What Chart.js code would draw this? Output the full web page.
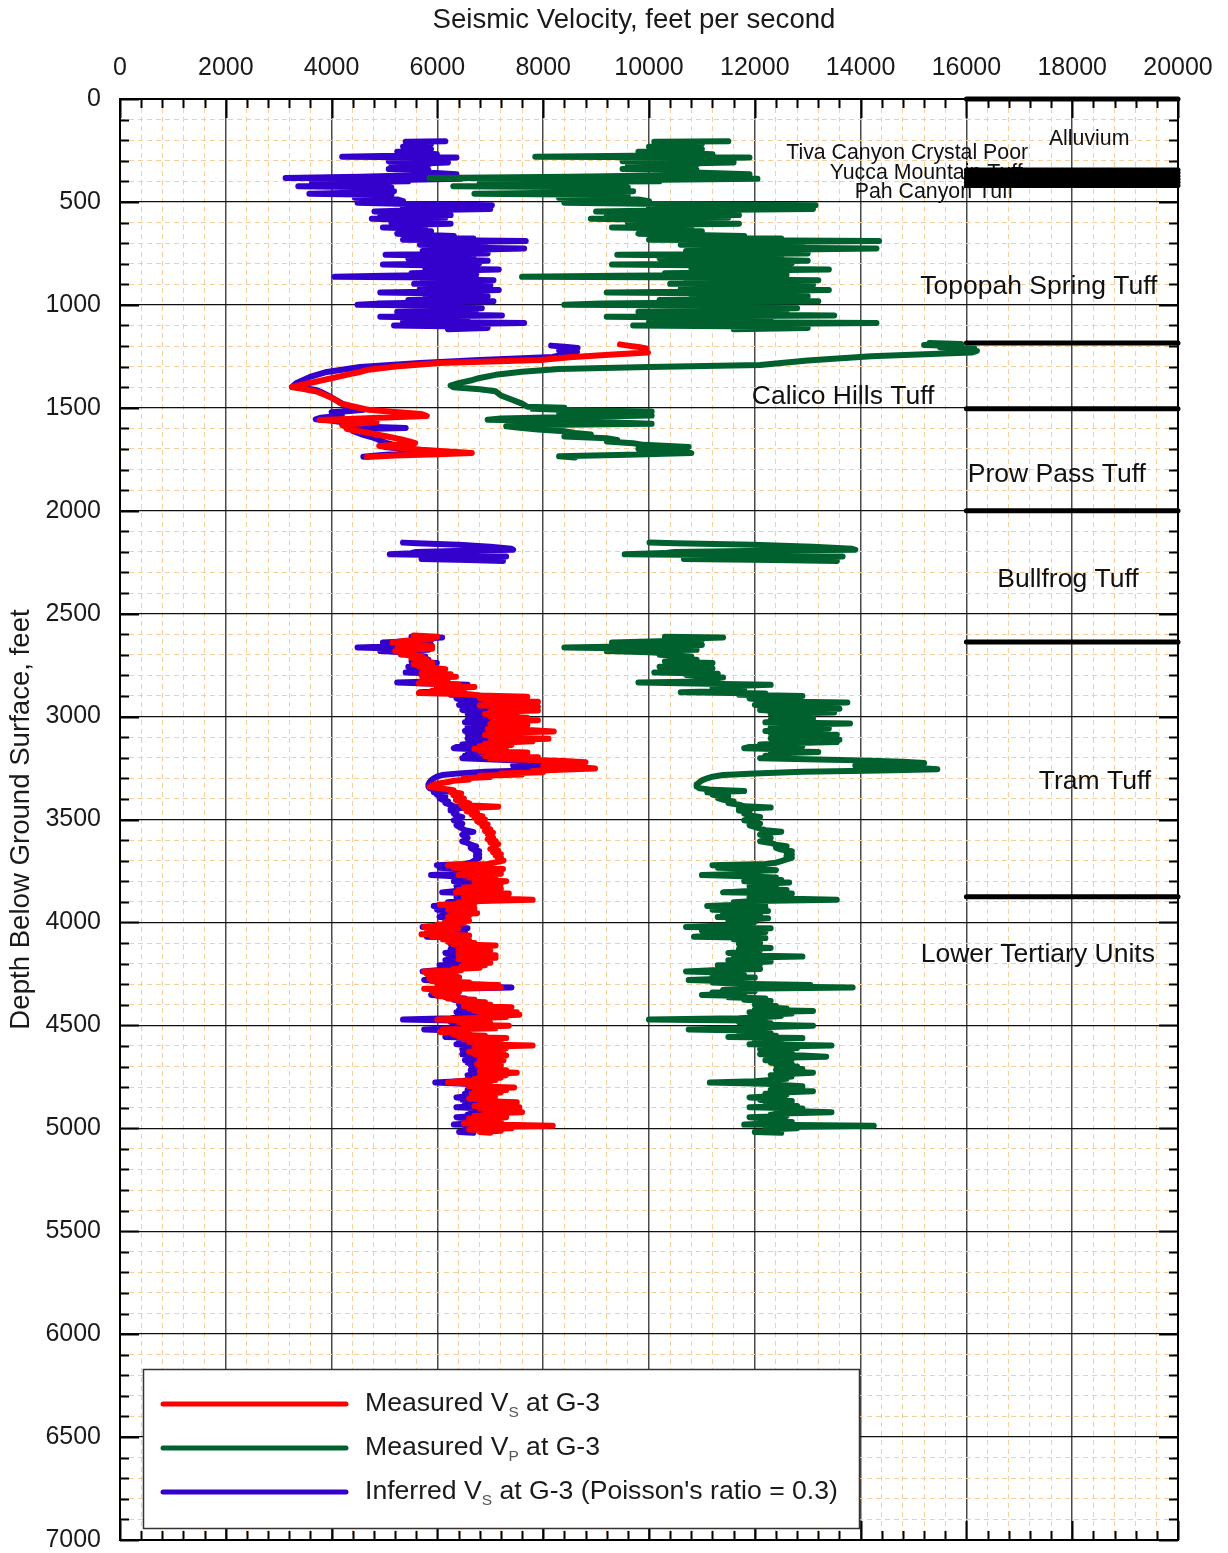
<!DOCTYPE html>
<html>
<head>
<meta charset="utf-8">
<title>Seismic velocity log, G-3</title>
<script src="https://cdn.jsdelivr.net/npm/chart.js@4.4.1/dist/chart.umd.min.js"></script>
<style>
  html, body { margin: 0; padding: 0; background: #ffffff; }
  #wrap { width: 1228px; height: 1553px; position: relative; }
</style>
</head>
<body>
<div id="wrap"><canvas id="chart" width="1228" height="1553"></canvas></div>
<script>
// ---------------------------------------------------------------------------
// Velocity logs, pairs of [depth below ground surface (ft), velocity (ft/s)]
// ---------------------------------------------------------------------------

// Measured Vp, upper tuffs (Tiva Canyon .. Topopah Spring)
const vpUpper = [
  [205,11500],[208,10100],[212,10500],[218,11000],[222,10200],[228,10800],[232,10000],[238,10400],[244,11000],[250,10300],
  [256,9800],[262,10600],[268,11200],[274,10200],[280,7850],[284,11900],[290,10600],[296,10900],[302,9500],[308,11600],
  [314,10400],[320,10900],[326,9600],[334,10300],[340,9500],[346,10900],[352,10500],[358,11000],[366,11900],[372,10200],
  [378,8500],[384,5850],[388,12050],[394,9800],[400,10200],[406,6800],[412,8800],[418,9500],[424,6300],[430,9600],
  [436,9000],[442,8800],[448,9700],[454,8600],[460,6700],[466,9600],[472,9000],[480,8300],[488,9800],[496,10000],
  [504,8400],[510,10200],[516,13150],[522,11000],[528,10000],[534,13100],[540,10500],[546,9000],[552,10300],[558,9500],
  [564,11700],[570,9200],[576,11500],[582,8900],[588,10400],[594,11400],[600,9600],[606,11700],[612,9900],[618,10600],
  [624,9300],[630,10800],[636,10000],[642,11000],[648,10200],[654,9800],[660,10600],[666,11800],[672,10400],[678,12500],
  [684,10000],[690,14350],[696,11500],[702,12800],[708,10600],[714,12900],[720,11200],[726,14300],[732,12400],[738,10700],
  [744,11600],[750,13000],[756,9400],[762,11400],[768,12500],[774,10200],[780,12000],[786,13000],[792,11000],[798,12700],
  [804,9300],[810,11800],[816,12300],[822,10800],[828,13400],[834,11500],[840,12000],[846,10300],[852,12600],[858,9400],
  [864,7600],[868,12600],[874,10700],[880,13200],[886,11100],[892,12600],[898,10400],[904,13100],[910,11200],[916,12400],
  [922,10600],[928,13400],[934,11800],[940,9200],[946,12200],[952,10800],[958,13000],[964,11400],[970,12100],[976,10200],
  [982,13200],[988,11000],[994,9100],[1000,8400],[1004,12000],[1010,10500],[1016,12800],[1022,11000],[1028,12400],[1034,9800],
  [1040,12600],[1046,11000],[1052,13500],[1058,9200],[1064,11600],[1070,10100],[1076,12300],[1082,10000],[1088,14300],[1094,11500],
  [1100,9700],[1106,12700],[1112,13000],[1118,11600]
];

// Inferred Vs (Poisson's ratio 0.3), upper tuffs
const vsInferredUpper = [
  [205,6150],[208,5400],[212,5610],[218,5880],[222,5450],[228,5770],[232,5350],[238,5560],[244,5880],[250,5510],
  [256,5240],[262,5670],[268,5990],[274,5450],[280,4200],[284,6360],[290,5670],[296,5830],[302,5080],[308,6200],
  [314,5560],[320,5830],[326,5130],[334,5510],[340,5080],[346,5830],[352,5610],[358,5880],[366,6360],[372,5450],
  [378,4540],[384,3130],[388,6440],[394,5240],[400,5450],[406,3630],[412,4700],[418,5080],[424,3370],[430,5130],
  [436,4810],[442,4700],[448,5180],[454,4600],[460,3580],[466,5130],[472,4810],[480,4440],[488,5240],[496,5350],
  [504,4490],[510,5450],[516,7030],[522,5880],[528,5350],[534,7000],[540,5610],[546,4810],[552,5510],[558,5080],
  [564,6250],[570,4920],[576,6150],[582,4760],[588,5560],[594,6090],[600,5130],[606,6250],[612,5290],[618,5670],
  [624,4970],[630,5770],[636,5350],[642,5880],[648,5450],[654,5240],[660,5670],[666,6310],[672,5560],[678,6680],
  [684,5350],[690,7670],[696,6150],[702,6840],[708,5670],[714,6900],[720,5990],[726,7640],[732,6630],[738,5720],
  [744,6200],[750,6950],[756,5020],[762,6090],[768,6680],[774,5450],[780,6410],[786,6950],[792,5880],[798,6790],
  [804,4970],[810,6310],[816,6570],[822,5770],[828,7160],[834,6150],[840,6410],[846,5510],[852,6730],[858,5020],
  [864,4060],[868,6730],[874,5720],[880,7060],[886,5930],[892,6730],[898,5560],[904,7000],[910,5990],[916,6630],
  [922,5670],[928,7160],[934,6310],[940,4920],[946,6520],[952,5770],[958,6950],[964,6090],[970,6470],[976,5450],
  [982,7060],[988,5880],[994,4860],[1000,4490],[1004,6410],[1010,5610],[1016,6840],[1022,5880],[1028,6630],[1034,5240],
  [1040,6730],[1046,5880],[1052,7220],[1058,4920],[1064,6200],[1070,5400],[1076,6570],[1082,5350],[1088,7640],[1094,6150],
  [1100,5180],[1106,6790],[1112,6950],[1118,6200]
];

// Calico Hills interval
const vpCalico = [
  [1185,15300],[1190,15900],[1195,15200],[1200,15800],[1206,15500],[1212,16150],[1218,15700],[1224,16200],[1232,16100],
  [1250,14200],[1270,13000],[1292,12100],[1302,10000],[1312,8300],[1325,7600],[1340,7100],[1355,6800],[1365,6670],
  [1380,6400],[1392,6250],[1400,6300],[1410,6800],[1420,7100],[1440,7200],[1460,7400],[1480,7600],[1495,7700],
  [1500,8400],[1505,7800],[1512,8600],[1518,10050],[1524,8300],[1530,9200],[1538,10050],[1545,8500],[1552,7200],
  [1558,6950],[1564,8300],[1570,9200],[1578,10050],[1584,8000],[1590,7300],[1598,7600],[1606,7900],[1614,8400],
  [1622,8600],[1630,8900],[1640,8400],[1648,9200],[1656,9400],[1664,9200],[1672,9700],[1680,9900],[1690,10750],
  [1700,9800],[1710,10600],[1720,10800],[1728,9600],[1736,8300],[1742,8600]
];
const vsCalico = [
  [1192,9450],[1198,9600],[1205,9800],[1212,9950],[1222,9900],[1232,9980],[1240,9400],[1255,8500],[1268,7940],
  [1282,6050],[1300,5200],[1315,4700],[1326,4540],[1334,4390],[1399,3250],[1410,3500],[1423,3740],[1440,3900],
  [1453,4010],[1465,4100],[1477,4160],[1490,4350],[1501,4540],[1510,4700],[1520,5200],[1530,5700],[1540,5800],
  [1548,4900],[1555,4300],[1559,3780],[1564,4300],[1570,4850],[1576,4500],[1585,4200],[1595,4300],[1603,4290],
  [1612,4500],[1622,4700],[1632,4900],[1642,5100],[1652,5300],[1662,5450],[1672,5580],[1678,5300],[1686,4900],
  [1695,5300],[1704,5700],[1712,6200],[1720,6650],[1726,6000],[1732,5200],[1739,4670]
];
const vsInferredCalico = [
  [1198,8150],[1204,8400],[1210,8650],[1216,8600],[1222,8300],[1229,8640],[1240,8400],[1253,8180],[1268,6800],
  [1282,5670],[1302,4540],[1326,3910],[1350,3590],[1379,3340],[1399,3250],[1405,3500],[1413,3700],[1423,3800],
  [1436,3900],[1450,4000],[1465,4100],[1480,4200],[1494,4250],[1502,4300],[1510,4600],[1516,4350],[1522,4000],
  [1530,4200],[1540,4100],[1548,3800],[1556,3700],[1562,4000],[1570,4200],[1578,4400],[1586,4300],[1592,4700],
  [1598,5400],[1604,4450],[1612,4400],[1622,4500],[1632,4600],[1642,4750],[1652,4850],[1662,4950],[1672,5050],
  [1682,5200],[1690,5000],[1698,5300],[1706,5250],[1714,5500],[1722,5350],[1730,4900],[1738,4600]
];

// Bullfrog interval
const vpBullfrog = [
  [2155,10010],[2158,10500],[2165,11970],[2175,13100],[2185,13840],[2190,13900],[2194,12160],[2200,10480],
  [2206,10290],[2212,9540],[2218,12160],[2222,13660],[2228,12720],[2234,10660],[2240,12350],[2244,13550]
];
const vsInferredBullfrog = [
  [2155,5350],[2158,5610],[2165,6400],[2175,7000],[2185,7400],[2190,7430],[2194,6500],[2200,5600],
  [2206,5500],[2212,5100],[2218,6500],[2222,7300],[2228,6800],[2234,5700],[2240,6600],[2244,7240]
];

// Tram Tuff and Lower Tertiary units
const vpLower = [
  [2612,10300],[2616,11400],[2622,10600],[2628,11000],[2634,10200],[2640,9300],[2646,10600],[2652,11000],[2658,9800],[2664,8400],
  [2670,10000],[2676,10900],[2682,9200],[2688,10000],[2694,10400],[2700,10200],[2708,10800],[2716,10400],[2724,10900],[2732,10300],
  [2740,11200],[2746,10600],[2752,10900],[2758,10200],[2766,11200],[2774,10500],[2780,11100],[2786,10100],[2792,11300],[2798,10700],
  [2804,11000],[2810,11400],[2816,11000],[2822,11100],[2828,11300],[2834,9800],[2840,11100],[2846,12300],[2852,11600],[2858,11200],
  [2866,11800],[2874,11600],[2882,10600],[2888,12200],[2894,11700],[2900,12900],[2906,12000],[2912,11900],[2920,12200],[2926,12100],
  [2932,13750],[2938,12300],[2944,12000],[2950,12500],[2956,12200],[2962,13600],[2968,12100],[2974,12500],[2980,13500],[2986,12300],
  [2992,12600],[2998,12900],[3004,12400],[3010,13100],[3016,12300],[3022,12700],[3028,12200],[3034,13800],[3040,12500],[3046,12900],
  [3052,12300],[3058,13400],[3064,12600],[3070,12200],[3076,12800],[3082,12300],[3088,13550],[3094,12500],[3100,12800],[3106,12300],
  [3112,13600],[3118,12700],[3124,13550],[3130,12600],[3136,12100],[3142,12900],[3148,11900],[3154,11800],[3160,12700],[3166,12300],
  [3172,13200],[3178,12500],[3184,12600],[3190,12200],[3196,12500],[3202,12100],[3208,13200],[3214,14200],[3220,14800],[3226,15200],
  [3232,14500],[3238,13900],[3244,14700],[3250,15100],[3256,15450],[3262,14400],[3268,12900],[3276,12000],[3284,11400],[3292,11200],
  [3300,11100],[3310,11000],[3320,10950],[3330,10900],[3340,10900],[3348,10950],[3356,11200],[3362,11800],[3368,11100],[3374,11300],
  [3380,11200],[3388,11500],[3396,11300],[3404,11400],[3412,11600],[3420,11500],[3428,11700],[3436,11800],[3442,12300],[3448,11700],
  [3456,11700],[3464,11900],[3472,11800],[3480,11900],[3488,12100],[3496,11900],[3504,11800],[3512,12000],[3520,12100],[3528,11900],
  [3536,12000],[3544,12100],[3552,12200],[3560,12500],[3566,12200],[3574,12100],[3582,12200],[3590,12300],[3598,12200],[3606,12100],
  [3614,12300],[3622,12400],[3630,12600],[3638,12400],[3646,12500],[3654,12700],[3662,12600],[3670,12700],[3678,12600],[3686,12700],
  [3694,12600],[3702,12500],[3710,12400],[3716,12200],[3722,11200],[3728,11900],[3734,11300],[3740,12200],[3746,12400],[3752,11700],
  [3758,12100],[3764,11900],[3770,11000],
  [3776,11800],[3782,12400],[3788,11900],[3794,12500],[3800,11800],[3806,12650],[3812,12100],[3818,12300],[3824,11900],[3830,12400],
  [3836,12100],[3842,12600],[3848,11800],[3854,11400],[3860,12700],[3866,12000],[3872,12300],[3878,11900],[3884,12500],[3890,13550],
  [3896,12000],[3902,11600],[3908,12200],[3914,11700],[3920,11100],[3926,12200],[3932,11500],[3938,11200],[3944,12250],[3950,11600],
  [3956,11400],[3962,12100],[3968,11800],[3974,11300],[3980,12250],[3986,11900],[3992,11500],[3998,12000],[4004,11700],[4010,11900],
  [4016,11300],[4022,10700],[4028,12300],[4034,11400],[4040,11000],[4046,12200],[4052,11600],[4058,11900],[4064,11200],[4070,10850],
  [4076,12200],[4082,11600],[4088,11900],[4094,11700],[4100,12100],[4106,11700],[4112,11900],[4118,11800],[4124,12300],[4130,11700],
  [4136,12100],[4142,11900],[4148,11500],[4154,12000],[4160,11600],[4166,12900],[4172,11700],[4178,12000],[4184,11500],[4190,12300],
  [4196,11800],[4202,12100],[4208,11300],[4214,11900],[4220,11500],[4226,12100],[4232,11200],[4238,10700],[4244,11600],[4250,11300],
  [4256,11800],[4262,11200],[4268,12000],[4274,11400],[4280,10750],[4286,11500],[4292,11200],[4298,11700],[4304,13050],[4310,12000],
  [4316,13850],[4322,11700],[4328,11400],[4334,12000],[4340,11200],[4346,11600],[4352,11000],[4358,11800],[4364,11500],[4370,12200],
  [4376,11800],[4382,12300],[4388,12000],[4394,12100],[4400,12000],[4406,12400],[4412,12100],[4418,12600],[4424,12000],[4430,13100],
  [4436,11900],[4442,12700],[4448,12200],[4454,12500],[4460,12200],[4466,11700],[4472,10000],[4478,12200],[4484,11700],[4490,12300],
  [4496,12000],[4502,13100],[4508,12300],[4514,11800],[4520,10750],[4526,12100],[4532,11700],[4538,12300],[4544,11900],[4550,12400],
  [4556,11500],[4562,12900],[4568,12200],[4574,12500],[4580,12000],[4586,12400],[4592,11900],[4598,13450],[4604,12300],[4610,12800],
  [4616,12100],[4622,12500],[4628,12200],[4634,12700],[4640,12100],[4646,12900],[4652,13350],[4658,12300],[4664,12700],[4670,12200],
  [4676,12600],[4682,12300],[4688,12700],[4694,12400],[4700,12800],[4706,12500],[4712,12900],[4718,12400],[4724,12600],[4730,13100],
  [4736,12600],[4742,12300],[4748,12700],[4754,12400],[4760,12600],[4766,12300],[4772,12000],[4778,11150],[4784,12200],[4790,12500],
  [4796,12900],[4802,12400],[4808,12700],[4814,12300],[4820,13100],[4826,12500],[4832,12200],[4838,12600],[4844,12300],[4850,11900],
  [4856,12500],[4862,12100],[4868,12700],[4874,12300],[4880,12600],[4886,12200],[4892,12800],[4898,11900],[4904,12900],[4910,12400],
  [4916,12700],[4922,13450],[4928,12500],[4934,12300],[4940,12600],[4946,11900],[4952,12200],[4958,12500],[4964,12200],[4970,12700],
  [4976,12400],[4982,11800],[4988,14250],[4994,12500],[5000,12800],[5006,12200],[5012,12500],[5018,12000],[5022,12500]
];

const vsInferredLower = [
  [2612,5510],[2616,6090],[2622,5670],[2628,5880],[2634,5450],[2640,4970],[2646,5670],[2652,5880],[2658,5240],[2664,4490],
  [2670,5350],[2676,5830],[2682,4920],[2688,5350],[2694,5560],[2700,5450],[2708,5770],[2716,5560],[2724,5830],[2732,5510],
  [2740,5990],[2746,5670],[2752,5830],[2758,5450],[2766,5990],[2774,5610],[2780,5930],[2786,5400],[2792,6040],[2798,5720],
  [2804,5880],[2810,6090],[2816,5880],[2822,5930],[2828,6040],[2834,5240],[2840,5930],[2846,6570],[2852,6200],[2858,5990],
  [2866,6310],[2874,6200],[2882,5670],[2888,6520],[2894,6250],[2900,6900],[2906,6410],[2912,6360],[2920,6520],[2926,6470],
  [2932,7350],[2938,6570],[2944,6410],[2950,6680],[2956,6520],[2962,7270],[2968,6470],[2974,6680],[2980,7220],[2986,6570],
  [2992,6730],[2998,6900],[3004,6630],[3010,7000],[3016,6570],[3022,6790],[3028,6520],[3034,7380],[3040,6680],[3046,6900],
  [3052,6570],[3058,7160],[3064,6730],[3070,6520],[3076,6840],[3082,6570],[3088,7240],[3094,6680],[3100,6840],[3106,6570],
  [3112,7270],[3118,6790],[3124,7240],[3130,6730],[3136,6470],[3142,6900],[3148,6360],[3154,6310],[3160,6790],[3166,6570],
  [3172,7060],[3178,6680],[3184,6730],[3190,6520],[3196,6680],[3202,6470],[3208,7060],[3214,7590],[3220,7910],[3226,8120],
  [3232,7750],[3238,7430],[3244,7860],[3250,8070],[3256,8260],[3262,7700],[3268,6900],[3276,6410],[3284,6090],[3292,5990],
  [3300,5930],[3310,5880],[3320,5850],[3330,5830],[3340,5830],[3348,5850],[3356,5990],[3362,6310],[3368,5930],[3374,6040],
  [3380,5990],[3388,6150],[3396,6040],[3404,6090],[3412,6200],[3420,6150],[3428,6250],[3436,6310],[3442,6570],[3448,6250],
  [3456,6250],[3464,6360],[3472,6310],[3480,6360],[3488,6470],[3496,6360],[3504,6310],[3512,6410],[3520,6470],[3528,6360],
  [3536,6410],[3544,6470],[3552,6520],[3560,6680],[3566,6520],[3574,6470],[3582,6520],[3590,6570],[3598,6520],[3606,6470],
  [3614,6570],[3622,6630],[3630,6730],[3638,6630],[3646,6680],[3654,6790],[3662,6730],[3670,6790],[3678,6730],[3686,6790],
  [3694,6730],[3702,6680],[3710,6630],[3716,6520],[3722,5990],[3728,6360],[3734,6040],[3740,6520],[3746,6630],[3752,6250],
  [3758,6470],[3764,6360],[3770,5880],
  [3776,6310],[3782,6630],[3788,6360],[3794,6680],[3800,6310],[3806,6760],[3812,6470],[3818,6570],[3824,6360],[3830,6630],
  [3836,6470],[3842,6730],[3848,6310],[3854,6090],[3860,6790],[3866,6410],[3872,6570],[3878,6360],[3884,6680],[3890,7240],
  [3896,6410],[3902,6200],[3908,6520],[3914,6250],[3920,5930],[3926,6520],[3932,6150],[3938,5990],[3944,6550],[3950,6200],
  [3956,6090],[3962,6470],[3968,6310],[3974,6040],[3980,6550],[3986,6360],[3992,6150],[3998,6410],[4004,6250],[4010,6360],
  [4016,6040],[4022,5720],[4028,6570],[4034,6090],[4040,5880],[4046,6520],[4052,6200],[4058,6360],[4064,5990],[4070,5800],
  [4076,6520],[4082,6200],[4088,6360],[4094,6250],[4100,6470],[4106,6250],[4112,6360],[4118,6310],[4124,6570],[4130,6250],
  [4136,6470],[4142,6360],[4148,6150],[4154,6410],[4160,6200],[4166,6900],[4172,6250],[4178,6410],[4184,6150],[4190,6570],
  [4196,6310],[4202,6470],[4208,6040],[4214,6360],[4220,6150],[4226,6470],[4232,5990],[4238,5720],[4244,6200],[4250,6040],
  [4256,6310],[4262,5990],[4268,6410],[4274,6090],[4280,5750],[4286,6150],[4292,5990],[4298,6250],[4304,6980],[4310,6410],
  [4316,7400],[4322,6250],[4328,6090],[4334,6410],[4340,5990],[4346,6200],[4352,5880],[4358,6310],[4364,6150],[4370,6520],
  [4376,6310],[4382,6570],[4388,6410],[4394,6470],[4400,6410],[4406,6630],[4412,6470],[4418,6730],[4424,6410],[4430,7000],
  [4436,6360],[4442,6790],[4448,6520],[4454,6680],[4460,6520],[4466,6250],[4472,5350],[4478,6520],[4484,6250],[4490,6570],
  [4496,6410],[4502,7000],[4508,6570],[4514,6310],[4520,5750],[4526,6470],[4532,6250],[4538,6570],[4544,6360],[4550,6630],
  [4556,6150],[4562,6900],[4568,6520],[4574,6680],[4580,6410],[4586,6630],[4592,6360],[4598,7190],[4604,6570],[4610,6840],
  [4616,6470],[4622,6680],[4628,6520],[4634,6790],[4640,6470],[4646,6900],[4652,7140],[4658,6570],[4664,6790],[4670,6520],
  [4676,6730],[4682,6570],[4688,6790],[4694,6630],[4700,6840],[4706,6680],[4712,6900],[4718,6630],[4724,6730],[4730,7000],
  [4736,6730],[4742,6570],[4748,6790],[4754,6630],[4760,6730],[4766,6570],[4772,6410],[4778,5960],[4784,6520],[4790,6680],
  [4796,6900],[4802,6630],[4808,6790],[4814,6570],[4820,7000],[4826,6680],[4832,6520],[4838,6730],[4844,6570],[4850,6360],
  [4856,6680],[4862,6470],[4868,6790],[4874,6570],[4880,6730],[4886,6520],[4892,6840],[4898,6360],[4904,6900],[4910,6630],
  [4916,6790],[4922,7190],[4928,6680],[4934,6570],[4940,6730],[4946,6360],[4952,6520],[4958,6680],[4964,6520],[4970,6790],
  [4976,6630],[4982,6310],[4988,7620],[4994,6680],[5000,6840],[5006,6520],[5012,6680],[5018,6410],[5022,6680]
];

// Measured Vs, Tram Tuff and Lower Tertiary units
const vsLower = [
  [2606,5550],[2612,6000],[2618,5650],[2624,5900],[2632,5400],[2640,5150],[2646,5550],[2652,5300],[2658,5900],[2664,5250],
  [2670,5900],[2676,5400],[2682,5200],[2690,5500],[2698,5300],[2706,5700],[2714,5500],[2722,5800],[2730,5600],[2738,5900],
  [2746,5550],[2752,5900],[2758,5650],[2764,5950],[2770,6150],[2776,5800],[2782,6000],[2788,5700],[2794,6250],[2800,5700],
  [2806,6350],[2812,5900],[2818,6200],[2826,5700],[2832,6100],[2838,5650],[2844,6400],[2850,6000],[2856,6700],[2862,6100],
  [2868,6500],[2874,5900],[2880,6400],[2886,5650],[2892,6600],[2898,6800],[2904,7700],[2910,6800],[2916,7300],[2922,6900],
  [2928,7900],[2934,7000],[2940,7500],[2946,6800],[2952,7900],[2958,7200],[2964,7600],[2970,7900],[2976,7000],[2982,7300],
  [2988,6900],[2994,7500],[3000,7000],[3006,7700],[3012,7100],[3018,7900],[3024,7050],[3030,7600],[3036,7000],[3042,7700],
  [3048,7100],[3054,7400],[3060,6950],[3066,7800],[3072,8200],[3078,7100],[3084,7600],[3090,6900],[3096,7400],[3102,7000],
  [3108,8100],[3114,7300],[3120,7800],[3126,7250],[3132,6900],[3138,7400],[3144,6800],[3150,7200],[3156,6700],[3162,7300],
  [3168,6800],[3174,7700],[3180,7100],[3186,7500],[3192,6900],[3198,7900],[3204,7000],[3210,7700],[3216,8400],[3222,8800],
  [3228,8100],[3234,8500],[3240,8000],[3246,8700],[3252,8980],[3258,8300],[3264,7800],[3270,8000],[3276,7200],[3282,7600],
  [3288,6800],[3294,7000],[3300,6500],[3306,6600],[3312,6300],[3318,6200],[3326,6000],[3334,5900],[3342,5850],[3350,6100],
  [3358,6300],[3366,6250],[3374,6450],[3382,6300],[3390,6400],[3398,6500],[3406,6350],[3414,6500],[3422,6600],[3430,6450],
  [3438,7150],[3444,6500],[3452,6700],[3460,6550],[3468,6750],[3476,6650],[3484,6850],[3492,6700],[3500,6900],[3508,6750],
  [3516,6800],[3524,6950],[3532,6850],[3540,6900],[3548,7000],[3556,6900],[3564,7050],[3572,6950],[3580,7000],[3588,7050],
  [3596,6950],[3604,7100],[3612,7000],[3620,7150],[3628,7050],[3636,7100],[3644,7000],[3652,7150],[3660,7050],[3668,7200],
  [3676,7100],[3684,7200],[3692,7150],[3700,7250],[3708,7100],[3716,6950],[3722,6200],[3728,7000],[3734,6300],[3740,7240],
  [3746,6500],[3752,7100],[3758,6800],[3764,7200],[3770,6400],[3776,7000],[3782,6600],[3788,7100],[3794,6700],[3800,7300],
  [3806,6800],[3812,7200],[3818,6700],[3824,7000],[3830,6500],[3836,7200],[3842,6400],[3848,7000],[3854,6350],[3860,7350],
  [3866,6600],[3872,7000],[3878,6500],[3884,7100],[3890,7800],[3896,6800],[3902,6400],[3908,6700],[3914,6050],[3920,6600],
  [3926,6200],[3932,6700],[3938,6200],[3944,6600],[3950,6300],[3956,6750],[3962,6250],[3968,6600],[3974,6200],[3980,6550],
  [3986,6300],[3992,6600],[3998,6150],[4004,6500],[4010,6000],[4016,6300],[4022,5750],[4028,6400],[4034,5850],[4040,6300],
  [4046,5800],[4052,6200],[4058,5700],[4064,6600],[4070,5900],[4076,6400],[4082,6100],[4088,6600],[4094,6200],[4100,6700],
  [4106,6300],[4112,7100],[4118,6500],[4124,6900],[4130,6400],[4136,7000],[4142,6500],[4148,6800],[4154,6400],[4160,7100],
  [4166,6600],[4172,7100],[4178,6400],[4184,6900],[4190,6500],[4196,7000],[4202,6500],[4208,6900],[4214,6450],[4220,6800],
  [4226,6300],[4232,6450],[4238,5750],[4244,6300],[4250,5800],[4256,6350],[4262,5900],[4268,6400],[4274,5850],[4280,6200],
  [4286,5900],[4292,6600],[4298,6000],[4304,7150],[4310,6100],[4316,7200],[4322,5750],[4328,6200],[4334,5900],[4340,6400],
  [4346,5950],[4352,6300],[4358,6000],[4364,6400],[4370,6200],[4376,6700],[4382,6400],[4388,6900],[4394,6500],[4400,7000],
  [4406,6500],[4412,7400],[4418,6600],[4424,7300],[4430,6700],[4436,7500],[4442,6800],[4448,7550],[4454,6900],[4460,7300],
  [4466,6600],[4472,6000],[4478,6800],[4484,6400],[4490,7000],[4496,6500],[4502,7350],[4508,6500],[4514,7100],[4520,6100],
  [4526,6600],[4532,6050],[4538,6500],[4544,6300],[4550,6900],[4556,6400],[4562,7300],[4568,6500],[4574,7100],[4580,6600],
  [4586,7200],[4592,6700],[4598,7800],[4604,6800],[4610,7300],[4616,6700],[4622,7100],[4628,6600],[4634,7250],[4640,6700],
  [4646,7300],[4652,6900],[4658,7200],[4664,6800],[4670,7250],[4676,6900],[4682,7100],[4688,6750],[4694,7200],[4700,6800],
  [4706,7150],[4712,6900],[4718,7300],[4724,6800],[4730,7500],[4736,6900],[4742,7300],[4748,6800],[4754,7200],[4760,6700],
  [4766,7100],[4772,6400],[4778,6200],[4784,6700],[4790,7000],[4796,6600],[4802,7450],[4808,6800],[4814,7300],[4820,6700],
  [4826,7200],[4832,6650],[4838,7100],[4844,6700],[4850,6900],[4856,6600],[4862,7100],[4868,6800],[4874,7500],[4880,6900],
  [4886,7300],[4892,6700],[4898,7550],[4904,6800],[4910,7400],[4916,6900],[4922,7600],[4928,6900],[4934,7200],[4940,6700],
  [4946,7300],[4952,6600],[4958,7000],[4964,6700],[4970,7200],[4976,6500],[4982,7000],[4988,8180],[4994,6800],[5000,7400],
  [5006,6600],[5012,7200],[5018,6800],[5022,7000]
];

// Formation contacts (ft below ground surface), drawn across the 16000-20000 ft/s strip
const contactDepths = [0, 345, 360, 375, 390, 405, 420, 1185, 1505, 2000, 2638, 3875];
const contactVelocityRange = [16000, 20000];

// Formation names
const formationNames = [
  'Alluvium', 'Tiva Canyon Crystal Poor', 'Yucca Mountain Tuff', 'Pah Canyon Tuff',
  'Topopah Spring Tuff', 'Calico Hills Tuff', 'Prow Pass Tuff', 'Bullfrog Tuff',
  'Tram Tuff', 'Lower Tertiary Units'
];

// Axis ranges and tick spacing
const velocityRange = [0, 20000];
const depthRange = [0, 7000];
const velocityMajorStep = 2000, velocityMinorStep = 400;
const depthMajorStep = 500, depthMinorStep = 100;

// ---------------------------------------------------------------------------
// Presentation
// ---------------------------------------------------------------------------
const FONT = "'Liberation Sans', Arial, Helvetica, sans-serif";
const RED = '#ff0000', GREEN = '#00612f', BLUE = '#3300cc';

// where each formation name sits, in axis units (velocity, depth) and font size
const labelPlacement = [
  { v: 18320, d: 194, size: 21.3 },
  { v: 14880, d: 262, size: 21.3 },
  { v: 15240, d: 360, size: 21.3 },
  { v: 15390, d: 452, size: 21.3 },
  { v: 17370, d: 913, size: 26.5 },
  { v: 13670, d: 1448, size: 26.5 },
  { v: 17710, d: 1827, size: 26.5 },
  { v: 17920, d: 2337, size: 26.5 },
  { v: 18430, d: 3318, size: 26.5 },
  { v: 17350, d: 4158, size: 26.5 }
];

const legendEntries = [
  { color: RED,   lead: 'Measured V', sub: 'S', tail: ' at G-3' },
  { color: GREEN, lead: 'Measured V', sub: 'P', tail: ' at G-3' },
  { color: BLUE,  lead: 'Inferred V', sub: 'S', tail: " at G-3 (Poisson's ratio = 0.3)" }
];

const toPoints = pairs => pairs.map(([d, v]) => ({ x: v, y: d }));

function trace(pairs, color, order) {
  return {
    data: toPoints(pairs),
    showLine: true,
    borderColor: color,
    backgroundColor: color,
    borderWidth: 6,
    pointRadius: 0,
    tension: 0,
    fill: false,
    borderJoinStyle: 'round',
    borderCapStyle: 'round',
    order
  };
}

const datasets = [
  trace(vsCalico, RED, 1),
  trace(vsLower, RED, 1),
  trace(vpUpper, GREEN, 2),
  trace(vpCalico, GREEN, 2),
  trace(vpBullfrog, GREEN, 2),
  trace(vpLower, GREEN, 2),
  trace(vsInferredUpper, BLUE, 3),
  trace(vsInferredCalico, BLUE, 3),
  trace(vsInferredBullfrog, BLUE, 3),
  trace(vsInferredLower, BLUE, 3)
];

contactDepths.forEach(d => {
  datasets.push({
    data: [{ x: contactVelocityRange[0], y: d }, { x: contactVelocityRange[1], y: d }],
    showLine: true,
    borderColor: '#000000',
    borderWidth: 5,
    pointRadius: 0,
    borderCapStyle: 'round',
    clip: false,
    order: 4
  });
});

const isMajorX = v => Math.abs(v % velocityMajorStep) < 1e-6;
const isMajorY = v => Math.abs(v % depthMajorStep) < 1e-6;

// formation names go under the contact bars, axis furniture and legend on top
const decorations = {
  id: 'decorations',
  beforeDatasetsDraw(chart) {
    const { ctx, scales: { x, y } } = chart;
    ctx.save();
    ctx.fillStyle = '#111111';
    ctx.textAlign = 'center';
    ctx.textBaseline = 'middle';
    formationNames.forEach((name, i) => {
      const p = labelPlacement[i];
      ctx.font = `${p.size}px ${FONT}`;
      ctx.fillText(name, x.getPixelForValue(p.v), y.getPixelForValue(p.d));
    });
    ctx.restore();
  },
  afterDatasetsDraw(chart) {
    const { ctx, chartArea: a, scales: { x, y } } = chart;
    ctx.save();
    ctx.strokeStyle = '#000000';
    ctx.lineWidth = 2;
    ctx.beginPath();
    x.ticks.forEach(t => {
      const px = Math.round(x.getPixelForValue(t.value)) + 0.5;
      const len = isMajorX(t.value) ? 19 : 9;
      ctx.moveTo(px, a.top); ctx.lineTo(px, a.top + len);
      ctx.moveTo(px, a.bottom); ctx.lineTo(px, a.bottom - len);
    });
    y.ticks.forEach(t => {
      const py = Math.round(y.getPixelForValue(t.value)) + 0.5;
      const len = isMajorY(t.value) ? 19 : 9;
      ctx.moveTo(a.left, py); ctx.lineTo(a.left + len, py);
      ctx.moveTo(a.right, py); ctx.lineTo(a.right - len, py);
    });
    ctx.stroke();
    ctx.lineWidth = 2;
    ctx.strokeRect(a.left, a.top, a.right - a.left, a.bottom - a.top);
    ctx.restore();
  },
  afterDraw(chart) {
    const { ctx, chartArea: a } = chart;
    ctx.save();
    // velocity axis title
    ctx.fillStyle = '#1a1a1a';
    ctx.font = `27.6px ${FONT}`;
    ctx.textAlign = 'center';
    ctx.textBaseline = 'middle';
    ctx.fillText('Seismic Velocity, feet per second', (a.left + a.right) / 2 - 15, 20);

    // legend box
    const bx = a.left + 23, by = a.bottom - 171, bw = 716, bh = 159;
    ctx.fillStyle = '#ffffff';
    ctx.fillRect(bx, by, bw, bh);
    ctx.strokeStyle = '#333333';
    ctx.lineWidth = 1.5;
    ctx.strokeRect(bx + 0.5, by + 0.5, bw, bh);
    legendEntries.forEach((e, i) => {
      const ly = by + 35 + i * 44;
      ctx.strokeStyle = e.color;
      ctx.lineWidth = 5;
      ctx.lineCap = 'round';
      ctx.beginPath();
      ctx.moveTo(bx + 20, ly); ctx.lineTo(bx + 203, ly);
      ctx.stroke();
      ctx.fillStyle = '#1a1a1a';
      ctx.textAlign = 'left';
      ctx.textBaseline = 'middle';
      let tx = bx + 222;
      ctx.font = `26.6px ${FONT}`;
      ctx.fillText(e.lead, tx, ly);
      tx += ctx.measureText(e.lead).width;
      ctx.font = `15.5px ${FONT}`;
      ctx.fillStyle = '#555555';
      ctx.fillText(e.sub, tx, ly + 9);
      tx += ctx.measureText(e.sub).width;
      ctx.font = `26.6px ${FONT}`;
      ctx.fillStyle = '#1a1a1a';
      ctx.fillText(e.tail, tx, ly);
    });
    ctx.restore();
  }
};

new Chart(document.getElementById('chart'), {
  type: 'scatter',
  data: { datasets },
  options: {
    responsive: false,
    animation: false,
    events: [],
    layout: { padding: { top: 0, left: 0, right: 50, bottom: 13 } },
    plugins: { legend: { display: false }, tooltip: { enabled: false }, title: { display: false } },
    scales: {
      x: {
        type: 'linear',
        position: 'top',
        min: velocityRange[0],
        max: velocityRange[1],
        afterFit: s => { s.height = 99; s.paddingLeft = 0; s.paddingRight = 0; },
        ticks: {
          stepSize: velocityMinorStep,
          maxTicksLimit: 200,
          autoSkip: false,
          minRotation: 0,
          maxRotation: 0,
          padding: 16,
          color: '#1a1a1a',
          font: { family: FONT, size: 25 },
          callback: v => (isMajorX(v) ? String(v) : '')
        },
        grid: {
          drawTicks: false,
          color: c => (isMajorX(c.tick.value) ? '#4a4a4a' : '#f7cf9c'),
          lineWidth: c => (isMajorX(c.tick.value) ? 1.5 : 1)
        },
        border: {
          display: false,
          dash: c => (c.tick && isMajorX(c.tick.value) ? [] : [5, 4])
        }
      },
      y: {
        type: 'linear',
        position: 'left',
        reverse: true,
        min: depthRange[0],
        max: depthRange[1],
        afterFit: s => { s.width = 120; s.paddingTop = 0; s.paddingBottom = 0; },
        title: {
          display: true,
          text: 'Depth Below Ground Surface, feet',
          color: '#1a1a1a',
          font: { family: FONT, size: 27.6 },
          padding: { top: 5, bottom: 0 }
        },
        ticks: {
          stepSize: depthMinorStep,
          maxTicksLimit: 200,
          autoSkip: false,
          padding: 19,
          color: '#1a1a1a',
          font: { family: FONT, size: 25 },
          callback: v => (isMajorY(v) ? String(v) : '')
        },
        grid: {
          drawTicks: false,
          color: c => (isMajorY(c.tick.value) ? '#111111' : '#f7cf9c'),
          lineWidth: c => (isMajorY(c.tick.value) ? 1.3 : 1)
        },
        border: {
          display: false,
          dash: c => (c.tick && isMajorY(c.tick.value) ? [] : [5, 4])
        }
      }
    }
  },
  plugins: [decorations]
});
</script>
</body>
</html>
